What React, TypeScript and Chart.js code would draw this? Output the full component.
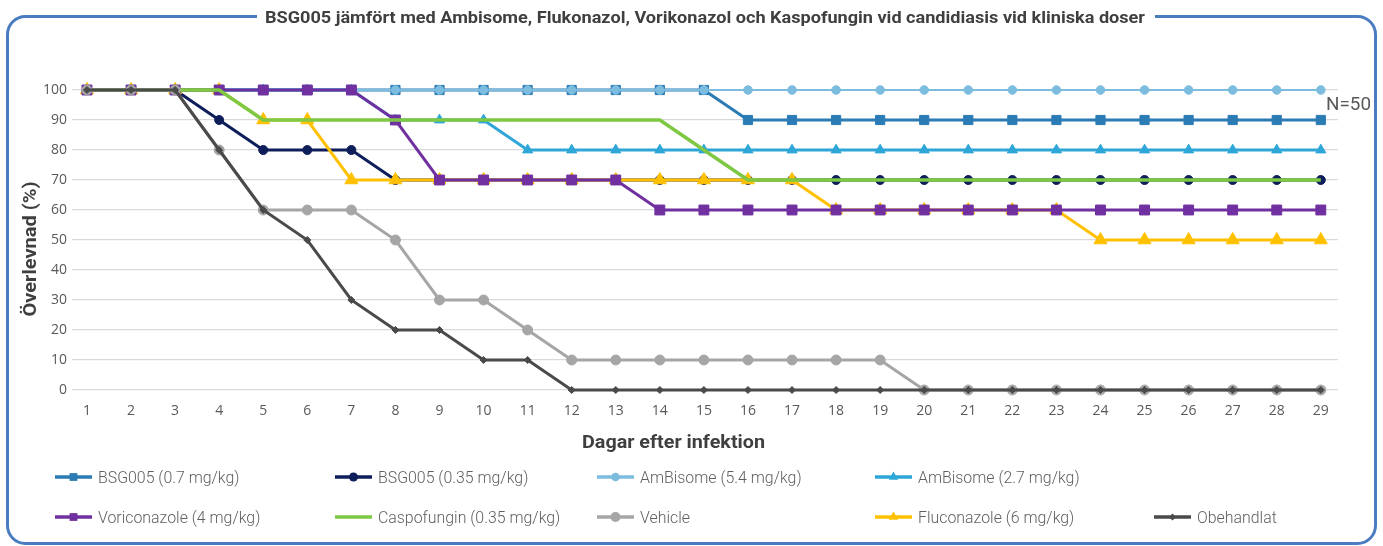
import React, { useEffect, useRef } from "react";
import { Chart, registerables } from "chart.js";

Chart.register(...registerables);

// ---------- data ----------
const days = [1, 2, 3, 4, 5, 6, 7, 8, 9, 10, 11, 12, 13, 14, 15, 16, 17, 18, 19, 20, 21, 22, 23, 24, 25, 26, 27, 28, 29];
const yTicks = [0, 10, 20, 30, 40, 50, 60, 70, 80, 90, 100];

const bsg07 = [100, 100, 100, 100, 100, 100, 100, 100, 100, 100, 100, 100, 100, 100, 100, 90, 90, 90, 90, 90, 90, 90, 90, 90, 90, 90, 90, 90, 90];
const bsg035 = [100, 100, 100, 90, 80, 80, 80, 70, 70, 70, 70, 70, 70, 70, 70, 70, 70, 70, 70, 70, 70, 70, 70, 70, 70, 70, 70, 70, 70];
const ambi54 = [100, 100, 100, 100, 100, 100, 100, 100, 100, 100, 100, 100, 100, 100, 100, 100, 100, 100, 100, 100, 100, 100, 100, 100, 100, 100, 100, 100, 100];
const ambi27 = [100, 100, 100, 100, 100, 100, 100, 90, 90, 90, 80, 80, 80, 80, 80, 80, 80, 80, 80, 80, 80, 80, 80, 80, 80, 80, 80, 80, 80];
const vori = [100, 100, 100, 100, 100, 100, 100, 90, 70, 70, 70, 70, 70, 60, 60, 60, 60, 60, 60, 60, 60, 60, 60, 60, 60, 60, 60, 60, 60];
const casp = [100, 100, 100, 100, 90, 90, 90, 90, 90, 90, 90, 90, 90, 90, 80, 70, 70, 70, 70, 70, 70, 70, 70, 70, 70, 70, 70, 70, 70];
const vehicle = [100, 100, 100, 80, 60, 60, 60, 50, 30, 30, 20, 10, 10, 10, 10, 10, 10, 10, 10, 0, 0, 0, 0, 0, 0, 0, 0, 0, 0];
const fluc = [100, 100, 100, 100, 90, 90, 70, 70, 70, 70, 70, 70, 70, 70, 70, 70, 70, 60, 60, 60, 60, 60, 60, 50, 50, 50, 50, 50, 50];
const obeh = [100, 100, 100, 80, 60, 50, 30, 20, 20, 10, 10, 0, 0, 0, 0, 0, 0, 0, 0, 0, 0, 0, 0, 0, 0, 0, 0, 0, 0];

const seriesLabels = [
  "BSG005 (0.7 mg/kg)",
  "BSG005 (0.35 mg/kg)",
  "AmBisome (5.4 mg/kg)",
  "AmBisome (2.7 mg/kg)",
  "Voriconazole (4 mg/kg)",
  "Caspofungin (0.35 mg/kg)",
  "Vehicle",
  "Fluconazole (6 mg/kg)",
  "Obehandlat",
];
const seriesValues = [bsg07, bsg035, ambi54, ambi27, vori, casp, vehicle, fluc, obeh];

const titleText = "BSG005 jämfört med Ambisome, Flukonazol, Vorikonazol och Kaspofungin vid candidiasis vid kliniska doser";
const xTitle = "Dagar efter infektion";
const yTitle = "Överlevnad (%)";
const nText = "N=50";

// ---------- styles ----------
type Style = { color: string; width: number; point: string | false; radius: number; order: number };
const styles: Style[] = [
  { color: "#2b7bb5", width: 3, point: "rect", radius: 6.5, order: 8 },
  { color: "#0e1e5b", width: 3, point: "circle", radius: 4.5, order: 7 },
  { color: "#7cbcdf", width: 2, point: "circle", radius: 4.3, order: 5 },
  { color: "#2ea7d8", width: 3, point: "triangle", radius: 5.8, order: 6 },
  { color: "#7030a0", width: 3, point: "rect", radius: 7, order: 3 },
  { color: "#7ec843", width: 3.5, point: false, radius: 0, order: 2 },
  { color: "#a6a6a6", width: 3, point: "circle", radius: 5, order: 1 },
  { color: "#ffc000", width: 3, point: "triangle", radius: 7.5, order: 4 },
  { color: "#4a4a4a", width: 3, point: "rectRot", radius: 3.5, order: 0 },
];

const legendCols = [55, 335, 597, 875, 1154];
const legendRows = [477, 517];
const legendPos = [
  [0, 0], [1, 0], [2, 0], [3, 0],
  [0, 1], [1, 1], [2, 1], [3, 1], [4, 1],
];

function fitText(ctx: CanvasRenderingContext2D, text: string, x: number, y: number, w: number, font: string, color: string) {
  ctx.save();
  ctx.font = font;
  const m = ctx.measureText(text).width;
  ctx.translate(x, y);
  ctx.scale(w / m, 1);
  ctx.fillStyle = color;
  ctx.textAlign = "left";
  ctx.textBaseline = "alphabetic";
  ctx.fillText(text, 0, 0);
  ctx.restore();
}

function drawMarker(ctx: CanvasRenderingContext2D, kind: string | false, x: number, y: number, r: number, color: string) {
  if (!kind) return;
  ctx.save();
  ctx.fillStyle = color;
  ctx.beginPath();
  if (kind === "rect") {
    const s = r * Math.SQRT1_2;
    ctx.rect(x - s, y - s, 2 * s, 2 * s);
  } else if (kind === "circle") {
    ctx.arc(x, y, r, 0, Math.PI * 2);
  } else if (kind === "triangle") {
    ctx.moveTo(x, y - r);
    ctx.lineTo(x + r * 0.866, y + r * 0.5);
    ctx.lineTo(x - r * 0.866, y + r * 0.5);
    ctx.closePath();
  } else if (kind === "rectRot") {
    ctx.moveTo(x, y - r);
    ctx.lineTo(x + r, y);
    ctx.lineTo(x, y + r);
    ctx.lineTo(x - r, y);
    ctx.closePath();
  }
  ctx.fill();
  ctx.restore();
}

const extras = {
  id: "extras",
  afterDraw(chart: any) {
    const ctx: CanvasRenderingContext2D = chart.ctx;
    // frame
    ctx.save();
    ctx.strokeStyle = "#4a7cc0";
    ctx.lineWidth = 3;
    const L = 7.5, T = 16.5, R = 1375.5, B = 543.5, rad = 18;
    ctx.beginPath();
    ctx.moveTo(L + rad, T);
    ctx.lineTo(R - rad, T);
    ctx.arcTo(R, T, R, T + rad, rad);
    ctx.lineTo(R, B - rad);
    ctx.arcTo(R, B, R - rad, B, rad);
    ctx.lineTo(L + rad, B);
    ctx.arcTo(L, B, L, B - rad, rad);
    ctx.lineTo(L, T + rad);
    ctx.arcTo(L, T, L + rad, T, rad);
    ctx.closePath();
    ctx.stroke();
    ctx.fillStyle = "#ffffff";
    ctx.fillRect(257, 12, 898, 10);
    ctx.restore();

    // title
    fitText(ctx, titleText, 265, 23, 880, "bold 16px Roboto", "#3f3f3f");
    // axis titles
    fitText(ctx, xTitle, 582, 448, 183, "bold 18px Roboto", "#3f3f3f");
    ctx.save();
    ctx.translate(36, 316.5);
    ctx.rotate(-Math.PI / 2);
    fitText(ctx, yTitle, 0, 0, 135, "bold 18px Roboto", "#3f3f3f");
    ctx.restore();
    // N=50
    fitText(ctx, nText, 1326, 110, 45, "18px Roboto", "#595959");

    // legend
    ctx.save();
    ctx.font = "300 17px Roboto";
    const sx = 141.5 / ctx.measureText(seriesLabels[0]).width;
    ctx.restore();
    seriesLabels.forEach((label, i) => {
      const [c, r] = legendPos[i];
      const x0 = legendCols[c];
      const y0 = legendRows[r];
      const st = styles[i];
      ctx.save();
      ctx.strokeStyle = st.color;
      ctx.lineWidth = 3.5;
      ctx.beginPath();
      ctx.moveTo(x0, y0);
      ctx.lineTo(x0 + 37, y0);
      ctx.stroke();
      ctx.restore();
      drawMarker(ctx, st.point, x0 + 18.5, y0, Math.min(st.radius, st.point === "rectRot" ? 3.5 : 5.5), st.color);
      ctx.save();
      ctx.font = "300 17px Roboto";
      ctx.translate(x0 + 43, y0 + 5.5);
      ctx.scale(sx, 1);
      ctx.fillStyle = "#606060";
      ctx.fillText(label, 0, 0);
      ctx.restore();
    });
  },
};

export default function App() {
  const ref = useRef<HTMLCanvasElement | null>(null);
  useEffect(() => {
    if (!ref.current) return;
    const datasets = seriesLabels.map((label, i) => {
      const st = styles[i];
      return {
        label,
        data: days.map((d, j) => ({ x: d, y: seriesValues[i][j] })),
        borderColor: st.color,
        backgroundColor: st.color,
        borderWidth: st.width,
        pointStyle: st.point || "circle",
        pointRadius: st.point ? st.radius : 0,
        pointBackgroundColor: st.color,
        pointBorderColor: st.color,
        pointBorderWidth: 1,
        tension: 0,
        order: st.order,
        clip: false as any,
      };
    });
    const chart = new Chart(ref.current, {
      type: "line",
      data: { datasets } as any,
      options: {
        animation: false,
        responsive: false,
        maintainAspectRatio: false,
        devicePixelRatio: 1,
        layout: { padding: { left: 0, top: 90, right: 45, bottom: 126 } },
        plugins: { legend: { display: false }, tooltip: { enabled: false }, title: { display: false } },
        scales: {
          x: {
            type: "linear",
            min: 0.66,
            max: 29.39,
            grid: { display: false, drawTicks: false },
            border: { display: false },
            ticks: { font: { family: "'Open Sans'", size: 14 }, color: "#595959", padding: 13, autoSkip: false, maxRotation: 0, includeBounds: false },
            afterBuildTicks: (s: any) => {
              s.ticks = days.map((v) => ({ value: v }));
            },
            afterFit: (s: any) => {
              s.height = 30;
            },
          },
          y: {
            min: 0,
            max: 100,
            grid: { color: "#d9d9d9", lineWidth: 1.2, drawTicks: false },
            border: { display: false },
            ticks: { font: { family: "'Open Sans'", size: 14 }, color: "#595959", padding: 5 },
            afterBuildTicks: (s: any) => {
              s.ticks = yTicks.map((v) => ({ value: v }));
            },
            afterFit: (s: any) => {
              s.width = 72;
            },
          },
        },
      } as any,
      plugins: [extras],
    });
    return () => chart.destroy();
  }, []);
  return (
    <div style={{ position: "fixed", left: 0, top: 0, width: 1383, height: 546, background: "#fff" }}>
      <canvas ref={ref} width={1383} height={546} style={{ display: "block", width: 1383, height: 546 }} />
    </div>
  );
}
